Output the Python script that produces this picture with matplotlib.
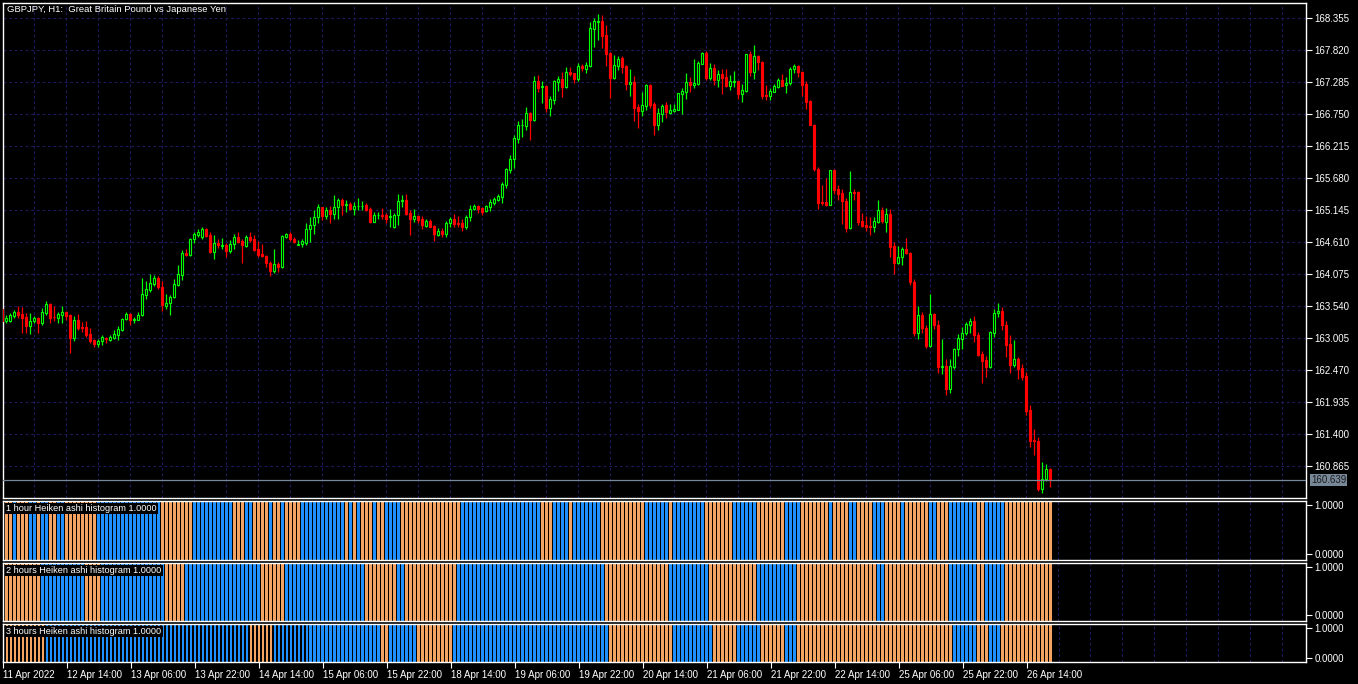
import matplotlib
matplotlib.use("Agg")
import matplotlib.pyplot as plt
import matplotlib.transforms as mtransforms

# --- данные: GBPJPY H1, свечи (open/high/low/close) ---
opens = [
    163.495, 163.295, 163.300, 163.378, 163.445, 163.412, 163.356, 163.217, 163.289, 163.345,
    163.267, 163.434, 163.579, 163.367, 163.350, 163.401, 163.445, 163.395, 163.016, 163.311,
    163.194, 163.194, 163.077, 162.971, 162.916, 162.955, 163.016, 162.983, 163.016, 163.066,
    163.144, 163.328, 163.412, 163.311, 163.311, 163.389, 163.735, 163.819, 163.919, 164.014,
    163.858, 163.551, 163.590, 163.690, 163.902, 164.069, 164.437, 164.404, 164.660, 164.738,
    164.705, 164.833, 164.727, 164.454, 164.604, 164.554, 164.565, 164.471, 164.577, 164.699,
    164.632, 164.549, 164.699, 164.660, 164.493, 164.415, 164.381, 164.260, 164.130, 164.250,
    164.200, 164.704, 164.749, 164.665, 164.570, 164.581, 164.604, 164.827, 164.894, 165.027,
    165.194, 165.049, 165.150, 165.083, 165.194, 165.317, 165.239, 165.244, 165.161, 165.211,
    165.211, 165.233, 165.172, 164.955, 165.061, 165.061, 165.061, 165.038, 164.860, 165.061,
    165.295, 165.311, 165.094, 165.005, 165.049, 165.005, 164.888, 164.971, 164.877, 164.737,
    164.793, 164.749, 164.938, 164.994, 164.927, 164.927, 164.871, 165.027, 165.161, 165.217,
    165.183, 165.128, 165.205, 165.272, 165.317, 165.373, 165.573, 165.819, 165.997, 166.342,
    166.565, 166.560, 166.766, 166.660, 167.306, 167.206, 167.217, 166.849, 166.994, 167.295,
    167.340, 167.206, 167.462, 167.435, 167.340, 167.563, 167.513, 167.563, 168.176, 168.287,
    168.309, 168.075, 167.775, 167.362, 167.563, 167.696, 167.552, 167.262, 167.284, 166.872,
    166.805, 166.894, 167.239, 166.916, 166.571, 166.760, 166.905, 166.771, 166.805, 166.827,
    167.095, 167.128, 167.284, 167.239, 167.262, 167.596, 167.774, 167.362, 167.518, 167.318,
    167.418, 167.373, 167.228, 167.295, 167.306, 167.095, 167.139, 167.752, 167.462, 167.719,
    167.630, 167.072, 167.061, 167.128, 167.206, 167.318, 167.234, 167.267, 167.502, 167.557,
    167.457, 167.256, 166.967, 166.565, 165.830, 165.283, 165.283, 165.239, 165.819, 165.495,
    165.429, 165.295, 164.849, 165.451, 165.451, 164.960, 164.893, 164.882, 164.871, 164.949,
    165.150, 164.949, 165.083, 164.548, 164.269, 164.358, 164.492, 164.425, 163.950, 163.100,
    163.400, 163.172, 162.882, 163.412, 163.222, 162.520, 162.542, 162.152, 162.531, 162.821,
    162.999, 163.088, 163.222, 163.289, 163.055, 162.743, 162.642, 162.531, 163.099, 163.423,
    163.456, 163.222, 162.910, 162.564, 162.654, 162.509, 162.375, 161.806, 161.305, 161.283,
    160.480, 160.648, 160.815,
]
highs = [
    163.520, 163.395, 163.434, 163.479, 163.545, 163.534, 163.434, 163.423, 163.378, 163.367,
    163.512, 163.629, 163.590, 163.545, 163.445, 163.545, 163.467, 163.412, 163.378, 163.412,
    163.278, 163.289, 163.178, 162.988, 162.988, 163.055, 163.033, 163.055, 163.144, 163.211,
    163.339, 163.445, 163.423, 163.356, 163.445, 164.014, 163.963, 164.080, 164.064, 164.047,
    163.958, 163.746, 163.729, 163.997, 164.236, 164.482, 164.493, 164.682, 164.783, 164.838,
    164.861, 164.850, 164.788, 164.732, 164.660, 164.682, 164.604, 164.649, 164.749, 164.783,
    164.660, 164.727, 164.783, 164.732, 164.638, 164.582, 164.400, 164.300, 164.500, 164.280,
    164.726, 164.771, 164.782, 164.704, 164.648, 164.660, 164.927, 165.027, 165.150, 165.250,
    165.205, 165.194, 165.217, 165.395, 165.350, 165.350, 165.317, 165.289, 165.283, 165.350,
    165.295, 165.272, 165.194, 165.116, 165.116, 165.183, 165.094, 165.172, 165.094, 165.417,
    165.406, 165.417, 165.150, 165.161, 165.061, 165.049, 164.994, 165.005, 164.905, 164.849,
    164.849, 164.960, 165.038, 165.083, 165.049, 164.994, 165.072, 165.228, 165.250, 165.228,
    165.205, 165.239, 165.339, 165.373, 165.417, 165.618, 165.852, 166.064, 166.398, 166.632,
    166.666, 166.872, 166.783, 167.396, 167.407, 167.306, 167.239, 167.050, 167.329, 167.396,
    167.462, 167.540, 167.540, 167.440, 167.602, 167.585, 167.618, 168.287, 168.354, 168.421,
    168.410, 168.243, 167.797, 167.741, 167.730, 167.719, 167.574, 167.507, 167.396, 166.916,
    167.117, 167.262, 167.250, 166.961, 166.849, 166.927, 166.950, 166.927, 166.927, 167.106,
    167.184, 167.440, 167.373, 167.674, 167.641, 167.797, 167.808, 167.607, 167.585, 167.496,
    167.507, 167.507, 167.407, 167.474, 167.306, 167.251, 167.763, 167.808, 167.908, 167.741,
    167.641, 167.239, 167.184, 167.262, 167.362, 167.418, 167.368, 167.546, 167.591, 167.568,
    167.479, 167.312, 166.989, 166.588, 165.874, 165.562, 165.685, 165.819, 165.841, 165.562,
    165.507, 165.350, 165.796, 165.495, 165.462, 165.105, 165.049, 165.038, 165.027, 165.317,
    165.194, 165.183, 165.161, 164.615, 164.548, 164.526, 164.682, 164.440, 164.000, 163.550,
    163.450, 163.222, 163.746, 163.423, 163.311, 162.988, 162.665, 162.665, 162.843, 163.077,
    163.189, 163.278, 163.345, 163.378, 163.111, 162.798, 162.709, 163.133, 163.501, 163.590,
    163.523, 163.289, 163.066, 162.977, 162.698, 162.576, 162.442, 161.885, 161.494, 161.350,
    160.937, 160.904, 160.837,
]
lows = [
    163.290, 163.256, 163.278, 163.345, 163.345, 163.100, 163.100, 163.077, 163.267, 163.100,
    163.233, 163.395, 163.256, 163.289, 163.267, 163.267, 163.311, 162.765, 162.966, 163.144,
    163.116, 163.022, 162.932, 162.854, 162.865, 162.888, 162.932, 162.966, 162.988, 162.983,
    163.133, 163.311, 163.233, 163.267, 163.305, 163.380, 163.668, 163.779, 163.880, 163.824,
    163.467, 163.501, 163.401, 163.685, 163.880, 163.980, 164.381, 164.381, 164.593, 164.693,
    164.671, 164.705, 164.426, 164.337, 164.510, 164.493, 164.359, 164.437, 164.504, 164.593,
    164.259, 164.526, 164.615, 164.460, 164.359, 164.359, 164.200, 164.050, 164.100, 164.120,
    164.180, 164.682, 164.637, 164.592, 164.559, 164.537, 164.565, 164.620, 164.749, 164.938,
    164.983, 164.994, 164.938, 165.005, 164.994, 165.066, 165.122, 165.150, 165.072, 165.150,
    165.150, 165.139, 164.927, 164.949, 165.005, 164.994, 164.927, 164.871, 164.849, 164.905,
    165.205, 165.072, 164.737, 164.949, 164.938, 164.838, 164.871, 164.860, 164.626, 164.715,
    164.704, 164.704, 164.871, 164.860, 164.871, 164.805, 164.838, 164.972, 165.150, 165.106,
    165.061, 165.116, 165.139, 165.239, 165.295, 165.261, 165.518, 165.763, 165.852, 166.275,
    166.376, 166.493, 166.320, 166.638, 167.117, 166.939, 166.794, 166.727, 166.927, 167.139,
    167.044, 167.184, 167.396, 167.273, 167.306, 167.474, 167.440, 167.546, 167.875, 167.986,
    167.864, 167.563, 167.028, 167.340, 167.485, 167.440, 167.161, 167.061, 166.638, 166.515,
    166.716, 166.827, 166.861, 166.404, 166.493, 166.616, 166.682, 166.749, 166.783, 166.816,
    166.760, 167.005, 167.117, 167.195, 167.239, 167.585, 167.329, 167.318, 167.239, 167.206,
    167.083, 167.206, 167.161, 167.206, 167.005, 166.961, 167.117, 167.384, 167.340, 167.485,
    167.005, 166.994, 166.994, 167.117, 167.195, 167.217, 167.111, 167.245, 167.435, 167.379,
    167.056, 166.833, 166.565, 165.807, 165.172, 165.228, 165.217, 165.239, 165.417, 165.317,
    164.916, 164.782, 164.838, 165.317, 164.905, 164.871, 164.804, 164.737, 164.782, 164.927,
    164.938, 164.782, 164.370, 164.080, 164.247, 164.236, 164.414, 163.900, 163.050, 163.000,
    163.100, 162.843, 162.865, 163.155, 162.431, 162.408, 162.052, 162.085, 162.486, 162.709,
    162.832, 163.066, 163.099, 162.943, 162.709, 162.252, 162.353, 162.509, 163.033, 163.356,
    163.144, 162.698, 162.420, 162.520, 162.330, 162.308, 161.729, 161.182, 161.049, 160.458,
    160.424, 160.614, 160.514,
]
closes = [
    163.300, 163.350, 163.395, 163.445, 163.395, 163.350, 163.217, 163.289, 163.345, 163.267,
    163.445, 163.579, 163.350, 163.356, 163.412, 163.445, 163.378, 163.016, 163.311, 163.172,
    163.183, 163.061, 162.966, 162.916, 162.955, 163.027, 162.988, 163.027, 163.077, 163.161,
    163.328, 163.412, 163.311, 163.334, 163.395, 163.740, 163.830, 163.924, 164.014, 163.858,
    163.557, 163.596, 163.696, 163.908, 164.075, 164.426, 164.404, 164.660, 164.749, 164.783,
    164.833, 164.716, 164.454, 164.593, 164.560, 164.565, 164.471, 164.582, 164.699, 164.615,
    164.560, 164.699, 164.654, 164.482, 164.398, 164.381, 164.260, 164.130, 164.250, 164.200,
    164.715, 164.749, 164.670, 164.615, 164.581, 164.637, 164.827, 164.899, 165.033, 165.194,
    165.049, 165.150, 165.083, 165.194, 165.317, 165.233, 165.244, 165.161, 165.217, 165.222,
    165.222, 165.150, 164.955, 165.066, 165.072, 165.049, 164.994, 165.049, 165.066, 165.300,
    165.311, 165.083, 165.005, 165.049, 164.983, 164.893, 164.971, 164.871, 164.743, 164.793,
    164.749, 164.938, 164.994, 164.916, 164.916, 164.871, 165.027, 165.172, 165.217, 165.172,
    165.116, 165.217, 165.284, 165.328, 165.384, 165.584, 165.830, 165.997, 166.348, 166.571,
    166.571, 166.766, 166.660, 167.306, 167.195, 167.217, 166.849, 167.005, 167.306, 167.340,
    167.206, 167.451, 167.429, 167.340, 167.552, 167.529, 167.574, 168.187, 168.309, 168.309,
    168.064, 167.763, 167.362, 167.574, 167.674, 167.540, 167.262, 167.284, 166.861, 166.805,
    166.905, 167.239, 166.905, 166.571, 166.771, 166.883, 166.783, 166.816, 166.838, 167.106,
    167.139, 167.284, 167.239, 167.273, 167.607, 167.774, 167.362, 167.518, 167.318, 167.418,
    167.362, 167.228, 167.306, 167.306, 167.095, 167.150, 167.752, 167.462, 167.719, 167.618,
    167.061, 167.061, 167.139, 167.228, 167.329, 167.228, 167.279, 167.502, 167.557, 167.457,
    167.245, 166.955, 166.576, 165.841, 165.272, 165.272, 165.239, 165.819, 165.484, 165.417,
    165.295, 164.849, 165.451, 165.440, 164.949, 164.882, 164.871, 164.871, 164.960, 165.150,
    164.960, 165.083, 164.537, 164.269, 164.358, 164.492, 164.425, 163.950, 163.100, 163.400,
    163.170, 162.882, 163.412, 163.222, 162.520, 162.542, 162.152, 162.542, 162.821, 163.010,
    163.099, 163.244, 163.289, 163.055, 162.732, 162.631, 162.531, 163.111, 163.423, 163.456,
    163.222, 162.899, 162.564, 162.654, 162.498, 162.364, 161.795, 161.294, 161.283, 160.480,
    160.659, 160.815, 160.639,
]
bid = 160.639

# Heiken ashi гистограммы: B - синий (рост), O - оранжевый (падение)
ha_1h = ("OOOBOOOBBOBBOOBBOOOOOOOO" + "B" * 16 + "O" * 8 + "B" * 10 + "OOOBBOOO" + "OBOOBOO"
         + "OOBBBBBBBBBBB" + "OBOBOOOBOOBBBBO" + "O" * 14 + "B" * 16 + "BBBBO" + "OOBBBBOBBBBBBB"
         + "O" * 11 + "BBBBBBOBBBBBBBB" + "O" * 7 + "B" * 6 + "O" * 7 + "BBBB" + "OOOOOOOB" + "OOOO"
         + "BB" + "OOOO" + "BBB" + "OOOO" + "B" + "O" * 6 + "BB" + "OOO" + "B" * 7 + "OO" + "B" * 5 + "O" * 12)
ha_2h = ("O" * 10 + "B" * 11 + "O" * 4 + "B" * 16 + "O" * 5 + "B" * 19 + "O" * 6 + "B" * 20 + "O" * 8
         + "B" * 2 + "O" * 13 + "B" * 37 + "O" * 16 + "B" * 10 + "O" * 12 + "B" * 10 + "O" * 20 + "B" * 2
         + "O" * 16 + "B" * 7 + "O" * 2 + "B" * 5 + "O" * 12)
ha_3h = ("O" * 11 + "B" * 51 + "O" * 6 + "B" * 27 + "O" * 2 + "B" * 7 + "O" * 9 + "B" * 39 + "O" * 16
         + "B" * 10 + "O" * 6 + "B" * 6 + "O" * 6 + "B" * 3 + "O" * 39 + "B" * 6 + "O" * 3 + "B" * 3
         + "O" * 13)

price_ticks = [168.355, 167.820, 167.285, 166.750, 166.215, 165.680, 165.145, 164.610,
               164.075, 163.540, 163.005, 162.470, 161.935, 161.400, 160.865]
time_labels = ["11 Apr 2022", "12 Apr 14:00", "13 Apr 06:00", "13 Apr 22:00", "14 Apr 14:00",
               "15 Apr 06:00", "15 Apr 22:00", "18 Apr 14:00", "19 Apr 06:00", "19 Apr 22:00",
               "20 Apr 14:00", "21 Apr 06:00", "21 Apr 22:00", "22 Apr 14:00", "25 Apr 06:00",
               "25 Apr 22:00", "26 Apr 14:00"]
panel_titles = ["1 hour Heiken ashi histogram 1.0000",
                "2 hours Heiken ashi histogram 1.0000",
                "3 hours Heiken ashi histogram 1.0000"]

# --- оформление ---
W, H = 1358, 684
BG = "black"
FG = "white"
GRID = "#1b1b5e"
UP, DN = "#00ff00", "#ff0000"
BLUE, ORANGE = "#1e90ff", "#f4a460"
FONT = "Liberation Sans"
FS = 7.0

fig = plt.figure(figsize=(W / 100, H / 100), dpi=100, facecolor=BG)


def panel(left, top, right, bottom):
    ax = fig.add_axes([left / W, 1 - bottom / H, (right - left) / W, (bottom - top) / H])
    ax.set_facecolor(BG)
    for s in ax.spines.values():
        s.set_color(FG)
        s.set_linewidth(1.0)
    ax.set_xlim(0.17, 325.9)
    ax.yaxis.tick_right()
    ax.tick_params(axis="y", colors=FG, length=4, width=0.8, labelsize=FS, pad=2)
    ax.tick_params(axis="x", bottom=False, labelbottom=False)
    for gx in range(8, 326, 8):
        ax.axvline(gx, color=GRID, lw=0.8, ls=(0, (2.5, 2.5)), zorder=0)
    return ax


n = len(closes)
xs = list(range(n))

# основной график
ax = panel(3, 3, 1306, 498)
ax.set_ylim(160.335, 168.611)
ax.set_yticks(price_ticks)
ax.set_yticklabels([f"{p:.3f}" for p in price_ticks], fontfamily=FONT, fontsize=FS)
for p in price_ticks:
    ax.axhline(p, color=GRID, lw=0.8, ls=(0, (2.5, 2.5)), zorder=0)

cols = [UP if c >= o else DN for o, c in zip(opens, closes)]
ax.vlines(xs, lows, highs, colors=cols, lw=0.9, zorder=2)
bottoms = [min(o, c) for o, c in zip(opens, closes)]
heights = [max(abs(c - o), 0.001) for o, c in zip(opens, closes)]
faces = [BG if c >= o else DN for o, c in zip(opens, closes)]
ax.bar(xs, heights, bottom=bottoms, width=0.5, color=faces, edgecolor=cols, linewidth=0.8, zorder=3)

ax.axhline(bid, color="#778899", lw=0.9, zorder=4)
trans = mtransforms.blended_transform_factory(ax.transAxes, ax.transData)
ax.text(1.0 + 5 / 1303, bid, f"{bid:.3f}", transform=trans, va="center", ha="left",
        fontsize=FS, fontfamily=FONT, color="#1a1a1a",
        bbox=dict(boxstyle="square,pad=0.12", fc="#778899", ec="none"))
ax.text(4 / 1303, 1 - 6 / 495, "GBPJPY, H1:  Great Britain Pound vs Japanese Yen", transform=ax.transAxes,
        va="center", ha="left", fontsize=6.8, fontfamily=FONT, color=FG)

# панели гистограмм
boxes = [(501, 560, 505, 554.3), (563, 621, 567, 615.3), (624, 662, 628.3, 657.7)]
series = [ha_1h, ha_2h, ha_3h]
for k, ((top, bot, y1, y0), ha, title) in enumerate(zip(boxes, series, panel_titles)):
    hx = panel(3, top, 1306, bot)
    hx.set_ylim(0, 1)
    hgt = bot - top
    hx.bar(xs, [1.0] * n, width=0.68, bottom=0, antialiased=False,
           color=[BLUE if s == "B" else ORANGE for s in ha], linewidth=0, zorder=2)
    hx.set_yticks([(bot - y0) / hgt, (bot - y1) / hgt])
    hx.set_yticklabels(["0.0000", "1.0000"], fontfamily=FONT, fontsize=FS)
    hx.text(3 / 1303, 1 - 7.5 / hgt, title, transform=hx.transAxes, va="center", ha="left",
            fontsize=6.6, fontfamily=FONT, color=FG, zorder=5,
            bbox=dict(boxstyle="square,pad=0.15", fc=BG, ec="none"))
    if k == 2:
        hx.set_xticks(list(range(0, 16 * len(time_labels), 16)))
        hx.set_xticklabels(time_labels, ha="left", fontfamily=FONT, fontsize=FS)
        hx.tick_params(axis="x", bottom=True, labelbottom=True, colors=FG, length=4, width=0.8, pad=2)

fig.savefig("out.png", dpi=100, facecolor=BG)
